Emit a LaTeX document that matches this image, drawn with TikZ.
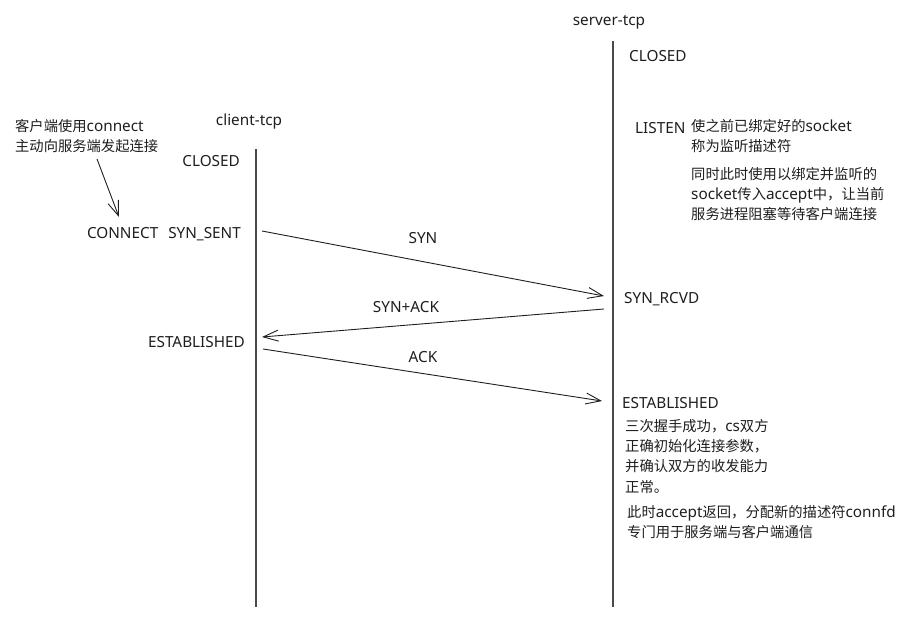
\documentclass[tikz,border=0pt]{standalone}
\usepackage{fontspec}
\setmainfont{Noto Sans}[Scale=1.07]
\newfontfamily\cjk{Noto Sans CJK SC}
\usetikzlibrary{arrows.meta}
\definecolor{ink}{HTML}{1E1E1E}
\definecolor{lifeln}{HTML}{4A4A4A}
\begin{document}
\begin{tikzpicture}[x=1pt,y=-1pt,
  txt/.style={inner sep=0pt,text=ink,font=\fontsize{14.3}{19.6}\selectfont,align=left},
  lifeline/.style={draw=lifeln,line width=1.3pt},
  msg/.style={draw=ink,line width=0.9pt,-{Straight Barb[length=15pt,width=11pt,line width=0.9pt]}}]
\useasboundingbox (0,0) rectangle (918,624);
% lifelines
\coordinate (ctop) at (256,149); \coordinate (cbot) at (256,607);
\coordinate (stop) at (613,41);  \coordinate (sbot) at (613,607);
\draw[lifeline] (ctop) -- (cbot);
\draw[lifeline] (stop) -- (sbot);
% titles
\node[txt,anchor=base] (stitle) at (609,25) {server-tcp};
\node[txt,anchor=base] (ctitle) at (249,125) {client-tcp};
% client side (base anchor = last line baseline)
\node[txt,anchor=base west] (cnote) at (15,151) {{\cjk 客户端使用}connect\\{\cjk 主动向服务端发起连接}};
\node[txt,anchor=base east] (cclosed) at (240,166) {CLOSED};
\node[txt,anchor=base east] (csent) at (241,238) {CONNECT\hspace{6pt} SYN\_SENT};
\node[txt,anchor=base east] (cest) at (245,347) {ESTABLISHED};
\coordinate (na) at (97,159); \coordinate (nb) at (119,217);
\draw[msg] (na) -- (nb);
% server side
\node[txt,anchor=base west] (sclosed) at (629,61) {CLOSED};
\node[txt,anchor=base west] (slisten) at (635,133) {LISTEN};
\node[txt,anchor=base west] (snote1) at (691,151) {{\cjk 使之前已绑定好的}socket\\{\cjk 称为监听描述符}};
\node[txt,anchor=base west] (snote2) at (691,219) {{\cjk 同时此时使用以绑定并监听的}\\socket{\cjk 传入}accept{\cjk 中，让当前}\\{\cjk 服务进程阻塞等待客户端连接}};
\node[txt,anchor=base west] (srcvd) at (624,303) {SYN\_RCVD};
\node[txt,anchor=base west] (sest) at (622,408) {ESTABLISHED};
\node[txt,anchor=base west,font=\fontsize{14.3}{20.3}\selectfont] (snote3) at (625,492) {{\cjk 三次握手成功，}cs{\cjk 双方}\\{\cjk 正确初始化连接参数，}\\{\cjk 并确认双方的收发能力}\\{\cjk 正常。}};
\node[txt,anchor=base west] (snote4) at (627,537) {{\cjk 此时}accept{\cjk 返回，分配新的描述符}connfd\\{\cjk 专门用于服务端与客户端通信}};
% messages
\coordinate (m1a) at (262,231); \coordinate (m1b) at (604,296);
\coordinate (m2a) at (604,309); \coordinate (m2b) at (262,337);
\coordinate (m3a) at (263,349); \coordinate (m3b) at (602,401);
\draw[msg] (m1a) -- (m1b);
\draw[msg] (m2a) -- (m2b);
\draw[msg] (m3a) -- (m3b);
\node[txt,anchor=base] (lsyn) at (423,243) {SYN};
\node[txt,anchor=base] (lsynack) at (406,312) {SYN+ACK};
\node[txt,anchor=base] (lack) at (423,362) {ACK};
\end{tikzpicture}
\end{document}
